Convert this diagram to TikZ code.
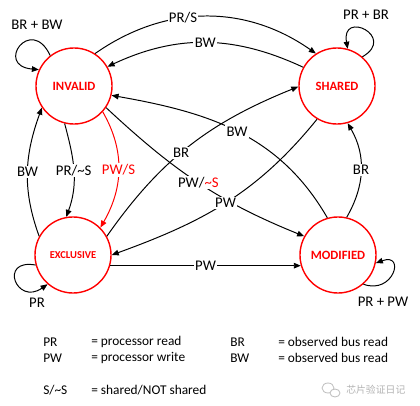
\documentclass[tikz,border=0pt]{standalone}
\usepackage{fontspec}
\setmainfont{Carlito}
\newfontfamily\cjkfont{Noto Sans CJK SC}
\usetikzlibrary{arrows.meta}
\tikzset{
  mesistate/.style={circle, draw=red, line width=1pt, minimum size=1.9cm, inner sep=0pt,
    text=red, font=\bfseries\fontsize{9}{10}\selectfont},
  trans/.style={line width=.7pt, -{Triangle[length=5pt,width=4pt]}},
  lbl/.style={fill=white, inner sep=1pt, font=\fontsize{10.5}{12}\selectfont},
  legend/.style={anchor=west, inner sep=0pt, font=\fontsize{9.5}{11}\selectfont}
}
\begin{document}
\begin{tikzpicture}[x=0.025cm, y=0.025cm]
  \useasboundingbox (0,0) rectangle (420,-406);
  %% states
  \node[mesistate] (inv) at (74,-86) {INVALID};
  \node[mesistate] (sh) at (337,-86) {SHARED};
  \node[mesistate, font=\bfseries\fontsize{7.5}{9}\selectfont] (ex) at (73,-255) {EXCLUSIVE};
  \node[mesistate] (mo) at (338,-255) {MODIFIED};

  %% top arcs
  \draw[trans] (inv.57) to[out=35,in=145] node[lbl,pos=.4]{PR/S} (sh.123);
  \draw[trans] (sh.151) to[out=155,in=25] node[lbl]{BW} (inv.30);

  %% crossing arcs
  \draw[trans] (mo.106) to[out=120,in=-10] node[lbl]{BW} (inv.-14);
  \draw[trans] (ex.29) to[out=55,in=-158] node[lbl,pos=.45]{BR} (sh.181);
  \draw[trans] (inv.-34) to[out=-43,in=158] node[lbl]{PW/\textcolor{red}{\textasciitilde S}} (mo.151);
  \draw[trans] (sh.-121) to[out=-129,in=20] node[lbl]{PW} (ex.0);

  %% bottom and sides
  \draw[trans] (ex.-16) -- node[lbl]{PW} (mo.196);
  \draw[trans] (mo.77) to[out=60,in=-60] node[lbl]{BR} (sh.-74);
  \draw[trans] (ex.151) to[out=110,in=-110] node[lbl]{BW} (inv.214);
  \draw[trans] (inv.-104) to[out=-75,in=70] node[lbl]{PR/\textasciitilde S} (ex.100);
  \draw[trans, red] (inv.-42) to[out=-60,in=60] node[lbl,text=red]{PW/S} (ex.45);

  %% self loops
  \draw[trans] (inv.128) .. controls +(115:45) and +(175:45) .. (inv.155);
  \draw[trans] (sh.49) .. controls +(30:40) and +(100:40) .. (sh.74);
  \draw[trans] (mo.-49) .. controls +(-20:32) and +(20:32) .. (mo.-12);
  \draw[trans] (ex.195) .. controls +(170:38) and +(215:38) .. (ex.229);
  \node[lbl] (lpinv) at (37,-25) {BR + BW};
  \node[lbl] (lpsh) at (366,-15) {PR + BR};
  \node[lbl] (lpmo) at (383,-302) {PR + PW};
  \node[lbl] (lpex) at (37,-303) {PR};

  %% legend
  \node[legend] (kpr) at (43,-342) {PR};
  \node[legend] (tpr) at (91,-342) {= processor read};
  \node[legend] (kbr) at (230,-342) {BR};
  \node[legend] (tbr) at (278,-342) {= observed bus read};
  \node[legend] (kpw) at (43,-358) {PW};
  \node[legend] (tpw) at (91,-358) {= processor write};
  \node[legend] (kbw) at (230,-358) {BW};
  \node[legend] (tbw) at (278,-358) {= observed bus read};
  \node[legend] (ks) at (43,-390) {S/\textasciitilde S};
  \node[legend] (ts) at (91,-390) {= shared/NOT shared};

  %% watermark
  \draw[gray!50, line width=.6pt] (328,-388) ellipse (6 and 5);
  \draw[gray!50, line width=.6pt, fill=white] (335,-393) ellipse (5 and 4);
  \node[anchor=west, inner sep=0pt, text=gray!60, font=\cjkfont\fontsize{7}{8}\selectfont] (wm) at (346,-390) {芯片验证日记};
\end{tikzpicture}
\end{document}
